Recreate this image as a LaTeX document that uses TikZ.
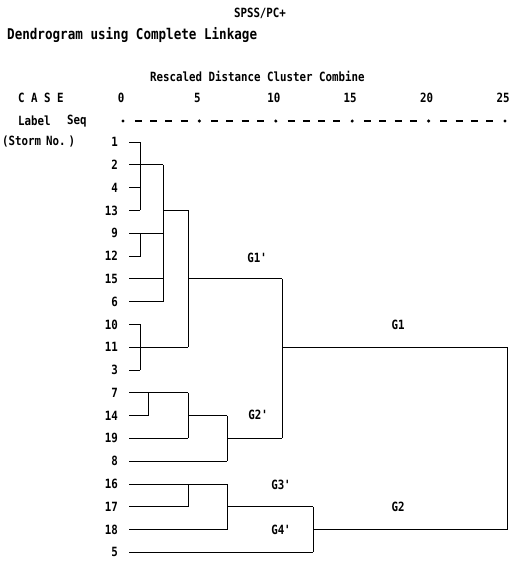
\documentclass[tikz,border=0pt]{standalone}
\usepackage{fontspec}
\setmainfont{DejaVu Sans Mono}
\newfontfamily\tfont{DejaVu Sans Mono}[FakeStretch=0.85]
\begin{document}
\begin{tikzpicture}[x=1pt,y=-1pt,
  link/.style={line width=1pt},
  txt/.style={inner sep=0pt,font=\tfont\bfseries\fontsize{12.7}{12.7}\selectfont},
  bigtxt/.style={inner sep=0pt,font=\tfont\bfseries\fontsize{14.8}{14.8}\selectfont},
  rowlab/.style={txt,anchor=east},
  tick/.style={circle,fill,inner sep=0pt,minimum size=3.4pt},
  dashmark/.style={line width=1.5pt}]
\useasboundingbox (0,0) rectangle (517,563);
% rows
\foreach \i in {1,...,19}{\coordinate (r\i) at (0,{142+22.8*(\i-1)});}
% columns
\coordinate (cL) at (129,0);
\coordinate (cA) at (140,0);
\coordinate (cB) at (148,0);
\coordinate (cC) at (163,0);
\coordinate (cD) at (188,0);
\coordinate (cE) at (227,0);
\coordinate (cF) at (282,0);
\coordinate (cG) at (313,0);
\coordinate (cH) at (507,0);
% headers
\node[txt] (title) at (260,13) {SPSS/PC+};
\node[bigtxt,anchor=west] (subtitle) at (7,35) {Dendrogram using Complete Linkage};
\node[txt,anchor=west] (rescaled) at (150,76) {Rescaled Distance Cluster Combine};
\node[txt,anchor=west] (case) at (18,98) {C A S E};
\node[txt,anchor=west] (label) at (18,121) {Label};
\node[txt,anchor=west] (seq) at (67,121) {Seq};
\node[txt,anchor=west] (storm) at (2,142) {(Storm\hspace{5pt}No.\hspace{3pt})};
\foreach \v [count=\k from 0] in {0,5,10,15,20,25}{
  \node[txt] (n\k) at ({121+76.4*\k},98) {\v};
  \node[tick] (t\k) at ({123+76.4*\k},121) {};
}
\foreach \k in {0,...,4}{
  \foreach \j in {1,...,4}{
    \draw[dashmark] ({123+76.4*\k+15.28*\j-3.5},121) -- ({123+76.4*\k+15.28*\j+3.5},121);
  }
}
% row labels
\foreach \lab [count=\i] in {1,2,4,13,9,12,15,6,10,11,3,7,14,19,8,16,17,18,5}{
  \node[rowlab] (lab\i) at ([xshift=118pt]r\i) {\lab};
}
% cluster {1,2,4,13}
\draw[link] (cL |- r1) -- (cA |- r1) -- (cA |- r4);
\draw[link] (cL |- r2) -- (cC |- r2);
\draw[link] (cL |- r3) -- (cA |- r3);
\draw[link] (cL |- r4) -- (cA |- r4);
% cluster {9,12}
\draw[link] (cL |- r5) -- (cC |- r5);
\draw[link] (cL |- r6) -- (cA |- r6) -- (cA |- r5);
% 15, 6
\draw[link] (cL |- r7) -- (cC |- r7);
\draw[link] (cL |- r8) -- (cC |- r8);
\draw[link] (cC |- r2) -- (cC |- r8);
\draw[link] (cC |- r4) -- (cD |- r4);
% cluster {10,11,3}
\draw[link] (cL |- r9) -- (cA |- r9) -- (cA |- r11);
\draw[link] (cL |- r10) -- (cD |- r10);
\draw[link] (cL |- r11) -- (cA |- r11);
\draw[link] (cD |- r4) -- (cD |- r10);
% G1'
\draw[link] (cD |- r7) -- (cF |- r7);
% cluster {7,14,19,8}
\draw[link] (cL |- r12) -- (cD |- r12);
\draw[link] (cL |- r13) -- (cB |- r13) -- (cB |- r12);
\draw[link] (cL |- r14) -- (cD |- r14);
\draw[link] (cD |- r12) -- (cD |- r14);
\draw[link] (cD |- r13) -- (cE |- r13);
\draw[link] (cL |- r15) -- (cE |- r15);
\draw[link] (cE |- r13) -- (cE |- r15);
\draw[link] (cE |- r14) -- (cF |- r14);
\draw[link] (cF |- r7) -- (cF |- r14);
% G1
\draw[link] (cF |- r10) -- (cH |- r10) -- (cH |- r18);
% cluster {16,17,18,5}
\draw[link] (cL |- r16) -- (cE |- r16);
\draw[link] (cL |- r17) -- (cD |- r17) -- (cD |- r16);
\draw[link] (cL |- r18) -- (cE |- r18);
\draw[link] (cE |- r16) -- (cE |- r18);
\draw[link] (cE |- r17) -- (cG |- r17);
\draw[link] (cL |- r19) -- (cG |- r19);
\draw[link] (cG |- r17) -- (cG |- r19);
% G2
\draw[link] (cG |- r18) -- (cH |- r18);
% group labels
\node[txt] (g1p) at (257,258) {G1'};
\node[txt] (g2p) at (258,415) {G2'};
\node[txt] (g3p) at (281,485) {G3'};
\node[txt] (g4p) at (281,530) {G4'};
\node[txt] (g1) at (398,325) {G1};
\node[txt] (g2) at (398,507) {G2};
\end{tikzpicture}
\end{document}
